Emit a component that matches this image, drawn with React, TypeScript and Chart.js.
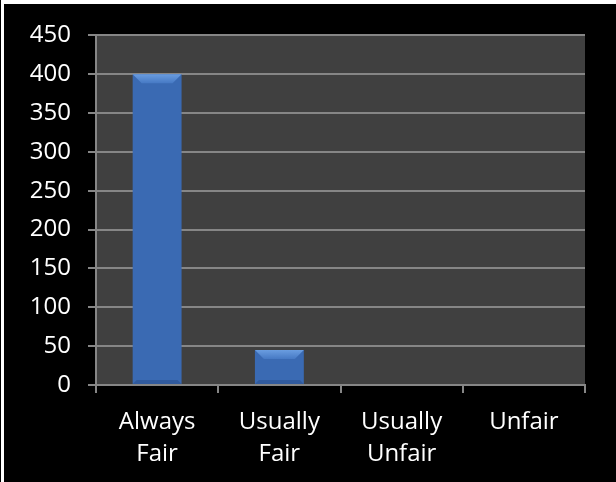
import React, { useEffect, useRef } from "react";
import { Chart, registerables } from "chart.js";

Chart.register(...registerables);

const categories: string[][] = [["Always", "Fair"], ["Usually", "Fair"], ["Usually", "Unfair"], ["Unfair"]];
const counts: number[] = [400, 45, 0, 0];
const yMax = 450;
const yStep = 50;

const plotBg = {
  id: "plotBg",
  beforeDraw(chart: any) {
    const { ctx, chartArea } = chart;
    if (!chartArea) return;
    ctx.save();
    ctx.fillStyle = "#404040";
    ctx.fillRect(chartArea.left, chartArea.top, chartArea.right - chartArea.left, chartArea.bottom - chartArea.top);
    ctx.restore();
  },
};

const bevel = {
  id: "bevel",
  afterDatasetsDraw(chart: any) {
    const { ctx } = chart;
    const meta = chart.getDatasetMeta(0);
    meta.data.forEach((el: any) => {
      const h = el.base - el.y;
      if (h < 2) return;
      const l = el.x - el.width / 2;
      const r = el.x + el.width / 2;
      const t = el.y;
      const b = Math.min(9, h / 2);
      ctx.save();
      const g = ctx.createLinearGradient(0, t, 0, t + b);
      g.addColorStop(0, "#6a9de0");
      g.addColorStop(1, "#4679c4");
      ctx.fillStyle = g;
      ctx.beginPath();
      ctx.moveTo(l, t);
      ctx.lineTo(r, t);
      ctx.lineTo(r - b, t + b);
      ctx.lineTo(l + b, t + b);
      ctx.closePath();
      ctx.fill();
      const bb = Math.min(4, h / 4);
      ctx.fillStyle = "rgba(20,45,90,0.25)";
      ctx.beginPath();
      ctx.moveTo(l, el.base);
      ctx.lineTo(r, el.base);
      ctx.lineTo(r - bb, el.base - bb);
      ctx.lineTo(l + bb, el.base - bb);
      ctx.closePath();
      ctx.fill();
      ctx.restore();
    });
  },
};

export default function App() {
  const ref = useRef<HTMLCanvasElement | null>(null);
  useEffect(() => {
    if (!ref.current) return;
    const chart = new Chart(ref.current, {
      type: "bar",
      data: {
        labels: categories,
        datasets: [
          {
            data: counts,
            backgroundColor: (c: any) => {
              const el = c.element;
              const ca = c.chart.chartArea;
              if (!el || !ca) return "#3a6ab3";
              const l = el.x - el.width / 2;
              const r = el.x + el.width / 2;
              if (!isFinite(l) || !isFinite(r) || r - l < 1) return "#3a6ab3";
              const g = c.chart.ctx.createLinearGradient(l, 0, r, 0);
              g.addColorStop(0, "#264f8e");
              g.addColorStop(0.12, "#3768b2");
              g.addColorStop(0.5, "#3d70bb");
              g.addColorStop(0.88, "#3768b2");
              g.addColorStop(1, "#244b88");
              return g;
            },
            borderWidth: 0,
            categoryPercentage: 1,
            barPercentage: 0.4,
          },
        ],
      },
      options: {
        animation: false,
        responsive: false,
        maintainAspectRatio: false,
        layout: { padding: { top: 29, right: 31, left: 0, bottom: 0 } },
        plugins: { legend: { display: false }, tooltip: { enabled: false } },
        scales: {
          x: {
            offset: true,
            grid: {
              offset: true,
              drawOnChartArea: false,
              drawTicks: true,
              tickLength: 8,
              color: "#868686",
              lineWidth: 2,
            },
            border: { color: "#868686", width: 2 },
            ticks: {
              color: "#ffffff",
              font: { family: "'Open Sans'", size: 24, lineHeight: 1.3 },
              padding: 14,
              maxRotation: 0,
              autoSkip: false,
            },
            afterFit: (s: any) => {
              s.height = 97;
            },
          },
          y: {
            min: 0,
            max: yMax,
            grid: { color: "#868686", lineWidth: 2, tickLength: 8 },
            border: { color: "#868686", width: 2 },
            ticks: {
              stepSize: yStep,
              color: "#ffffff",
              font: { family: "'Open Sans'", size: 24 },
              padding: 17,
            },
            afterFit: (s: any) => {
              s.width = 92;
            },
          },
        },
      },
      plugins: [plotBg, bevel],
    } as any);
    return () => chart.destroy();
  }, []);
  return (
    <div style={{ position: "absolute", left: 0, top: 0, width: 616, height: 482, background: "#ffffff" }}>
      <div style={{ position: "absolute", left: 0, top: 0, width: 1, height: 482, background: "#000" }} />
      <div style={{ position: "absolute", left: 4, top: 4, width: 612, height: 478, background: "#000" }}>
        <canvas ref={ref} width={612} height={478} style={{ display: "block" }} />
      </div>
    </div>
  );
}
